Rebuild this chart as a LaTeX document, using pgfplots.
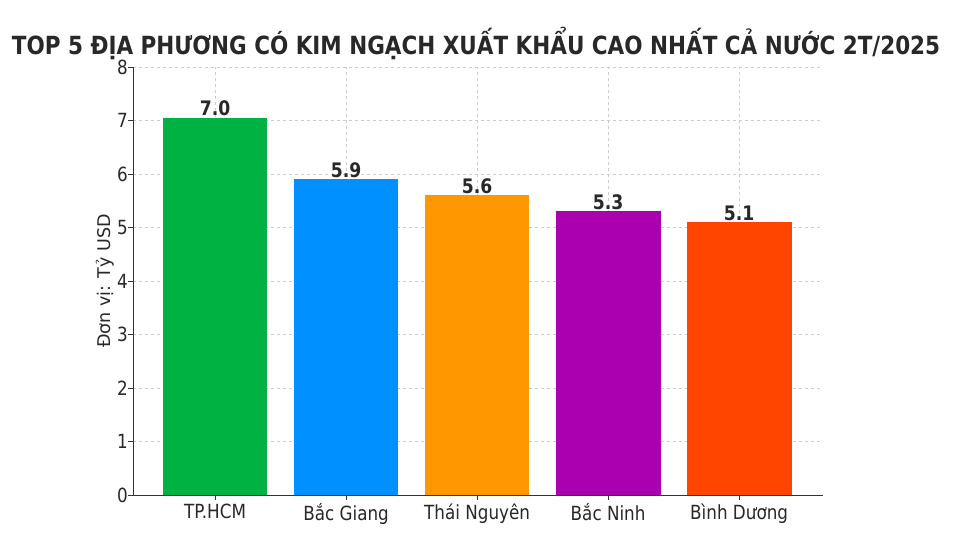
\documentclass[border=0pt]{standalone}
\usepackage{fontspec}
\setmainfont{DejaVu Sans}[FakeStretch=0.86]
\newfontfamily\ylfont{DejaVu Sans}
\usepackage{pgfplots}
\pgfplotsset{compat=1.18}
\definecolor{cgreen}{RGB}{0,178,66}
\definecolor{cblue}{RGB}{0,144,255}
\definecolor{corange}{RGB}{255,152,0}
\definecolor{cpurple}{RGB}{170,0,176}
\definecolor{cred}{RGB}{255,69,0}
\definecolor{txt}{RGB}{40,40,40}
\begin{document}
\begin{tikzpicture}[x=1pt,y=1pt]
\path[use as bounding box, fill=white] (0,0) rectangle (953,557);
\node[font=\fontsize{25}{30}\selectfont\bfseries, text=txt, inner sep=0pt] at (476,513.5) {TOP 5 ĐỊA PHƯƠNG CÓ KIM NGẠCH XUẤT KHẨU CAO NHẤT CẢ NƯỚC 2T/2025};
\begin{axis}[
  at={(133pt,62pt)}, anchor=south west,
  scale only axis, width=690pt, height=428pt,
  xmin=-0.626, xmax=4.64, ymin=0, ymax=8,
  ytick={0,1,...,8},
  xtick={0,1,2,3,4},
  xticklabels={TP.HCM, Bắc Giang, Thái Nguyên, Bắc Ninh, Bình Dương},
  axis x line*=bottom, axis y line*=left,
  axis line style={draw=black!80, line width=1pt},
  tick align=outside, major tick length=5pt,
  tick style={draw=black!80, line width=0.9pt},
  grid=major,
  major grid style={dashed, draw=gray!40, line width=0.7pt},
  ticklabel style={font=\fontsize{19.5}{22}\selectfont, text=txt},
  yticklabel style={xshift=1pt, inner sep=1pt},
  /pgf/number format/assume math mode=true,
  ylabel={Đơn vị: Tỷ USD},
  ylabel style={font=\ylfont\fontsize{17.5}{20}\selectfont, text=txt},
  ylabel shift=-2pt,
  ybar, bar width=0.8, bar shift=0pt,
  nodes near coords style={font=\fontsize{20}{23}\selectfont\bfseries, text=txt, anchor=south, inner sep=1.5pt},
]
\addplot[fill=cgreen, draw=none, nodes near coords={7.0}] coordinates {(0,7.05)};
\addplot[fill=cblue, draw=none, nodes near coords={5.9}] coordinates {(1,5.9)};
\addplot[fill=corange, draw=none, nodes near coords={5.6}] coordinates {(2,5.6)};
\addplot[fill=cpurple, draw=none, nodes near coords={5.3}] coordinates {(3,5.3)};
\addplot[fill=cred, draw=none, nodes near coords={5.1}] coordinates {(4,5.1)};
\end{axis}
\end{tikzpicture}
\end{document}
